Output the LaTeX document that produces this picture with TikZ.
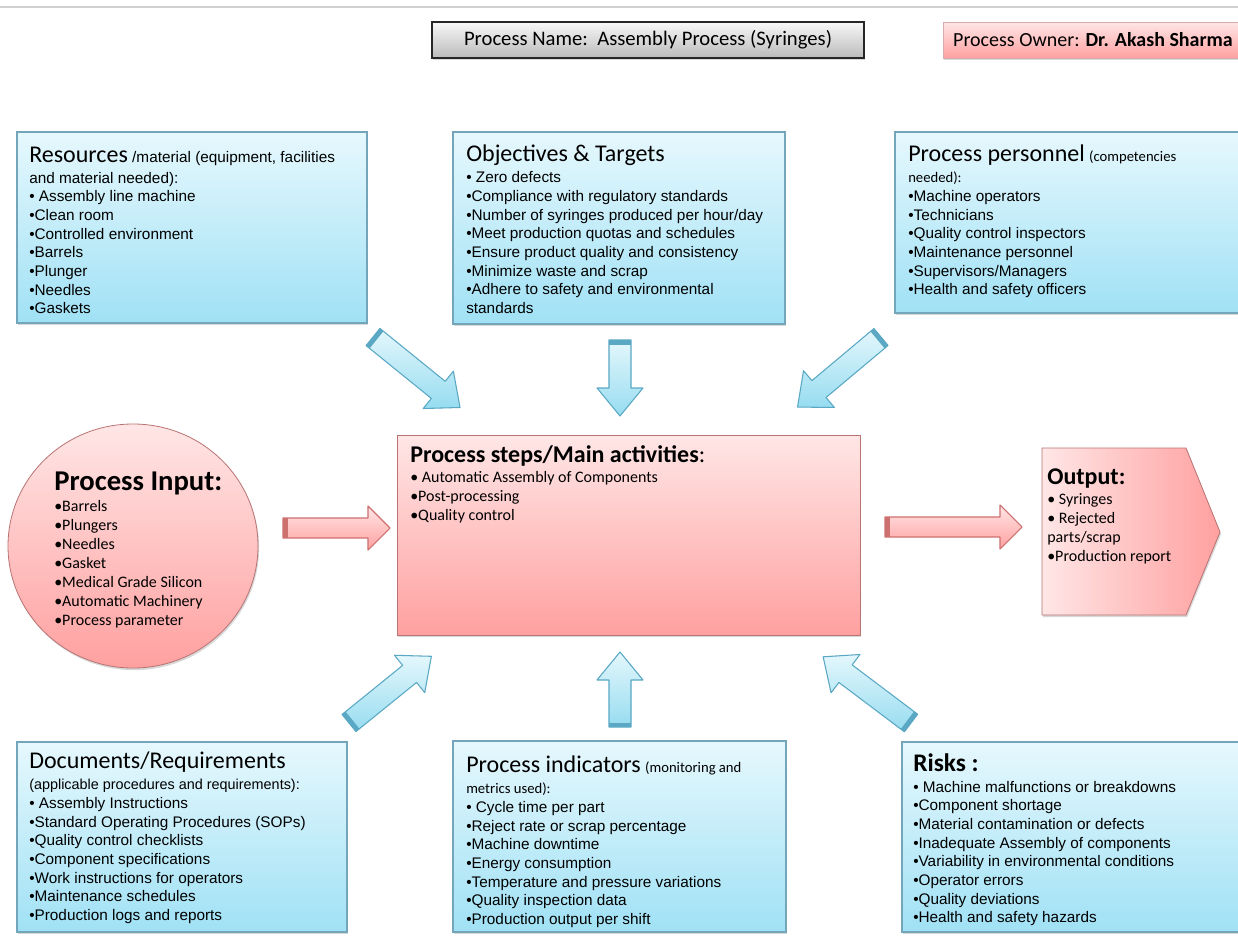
\documentclass[tikz,border=0pt]{standalone}
\usepackage{fontspec}
\setmainfont{Carlito}
\newfontfamily\arialf{Liberation Sans}
\usetikzlibrary{shadows}

\definecolor{boxedge}{RGB}{115,166,186}
\definecolor{bluetop}{RGB}{230,248,253}
\definecolor{bluebot}{RGB}{160,225,245}
\definecolor{pinktop}{RGB}{255,230,230}
\definecolor{pinkbot}{RGB}{255,160,160}
\definecolor{pinkedge}{RGB}{185,115,115}
\definecolor{arrowedge}{RGB}{90,168,196}
\definecolor{arrowtop}{RGB}{228,247,252}
\definecolor{arrowbot}{RGB}{150,220,240}
\definecolor{redarrowedge}{RGB}{205,112,112}
\definecolor{greytop}{RGB}{248,248,248}
\definecolor{greybot}{RGB}{186,186,186}

\newcommand\boxtitlefont{\rmfamily\fontsize{18}{20}\selectfont}
\newcommand\calnotefont{\rmfamily\fontsize{11}{14}\selectfont}

\begin{document}
\begin{tikzpicture}[x=0.75pt,y=0.75pt,yscale=-1,xscale=1,
  bluebox/.style={draw=boxedge, line width=0.8pt, top color=bluetop, bottom color=bluebot,
    drop shadow={opacity=0.3, shadow xshift=0.8pt, shadow yshift=-1.6pt}},
  redbox/.style={draw=pinkedge, line width=0.6pt, top color=pinktop, bottom color=pinkbot,
    drop shadow={opacity=0.3, shadow xshift=0.8pt, shadow yshift=-1.6pt}},
  bluearrow/.style={draw=arrowedge, line width=0.8pt, top color=arrowtop, bottom color=arrowbot, line join=round},
  redarrow/.style={draw=redarrowedge, line width=0.8pt, top color=pinktop, bottom color=pinkbot, line join=round},
  blueband/.style={fill=arrowedge},
  redband/.style={fill=redarrowedge},
  boxtext/.style={anchor=north west, inner sep=0pt, align=left, font=\arialf\fontsize{11.5}{14}\selectfont},
  redtext/.style={anchor=north west, inner sep=0pt, align=left, font=\rmfamily\fontsize{12}{14.2}\selectfont}
]
%set diagram size, 1238 x 935
\useasboundingbox (0,0) rectangle (1238,935);
\clip (0,0) rectangle (1238,935);
\fill [white] (0,0) rectangle (1238,935);

%Straight Lines
\draw [black!18, line width=0.8pt] (0,7) -- (1238,7) ;

%Shape: Rectangle
\draw [draw=black!85, line width=0.8pt, top color=greytop, bottom color=greybot,
  drop shadow={opacity=0.3, shadow xshift=0.8pt, shadow yshift=-1.6pt}] (432,22) rectangle (864,58) ;
%Shape: Rectangle
\draw [draw=pinkedge!60, line width=0.6pt, top color=pinktop, bottom color=pinkbot,
  drop shadow={opacity=0.3, shadow xshift=0.8pt, shadow yshift=-1.6pt}] (943,22) rectangle (1245,58) ;

%Shape: Rectangle
\draw [bluebox] (17,132) rectangle (367,323) ;
%Shape: Rectangle
\draw [bluebox] (453,132) rectangle (785,324) ;
%Shape: Rectangle
\draw [bluebox] (895,132) rectangle (1245,313) ;
%Shape: Rectangle
\draw [bluebox] (17,742) rectangle (347,932) ;
%Shape: Rectangle
\draw [bluebox] (453,741) rectangle (786,932) ;
%Shape: Rectangle
\draw [bluebox] (902,742) rectangle (1245,932) ;

%Shape: Ellipse
\draw [redbox] (133,546) ellipse (125 and 122) ;
%Shape: Rectangle
\draw [redbox] (397,435) rectangle (860,635) ;
%Shape: Pentagon
\draw [draw=pinkedge, line width=0.6pt, left color=pinktop, right color=pinkbot,
  drop shadow={opacity=0.3, shadow xshift=0.8pt, shadow yshift=-1.6pt}]
  (1042,448) -- (1186,448) -- (1220,532) -- (1186,615) -- (1042,615) -- cycle ;

%Shape: Right Arrow
\draw [bluearrow, shift={(373,337)}, rotate=39] (0,-11) -- (84,-11) -- (84,-24) -- (112,0) -- (84,24) -- (84,11) -- (0,11) -- cycle ;
\fill [blueband, shift={(373,337)}, rotate=39] (0,-11) -- (4.5,-11) -- (4.5,11) -- (0,11) -- cycle ;
%Shape: Right Arrow
\draw [bluearrow, shift={(620,340)}, rotate=90] (0,-11) -- (48,-11) -- (48,-23) -- (76,0) -- (48,23) -- (48,11) -- (0,11) -- cycle ;
\fill [blueband, shift={(620,340)}, rotate=90] (0,-11) -- (4.5,-11) -- (4.5,11) -- (0,11) -- cycle ;
%Shape: Right Arrow
\draw [bluearrow, shift={(881,337)}, rotate=140] (0,-11) -- (81,-11) -- (81,-24) -- (109,0) -- (81,24) -- (81,11) -- (0,11) -- cycle ;
\fill [blueband, shift={(881,337)}, rotate=140] (0,-11) -- (4.5,-11) -- (4.5,11) -- (0,11) -- cycle ;
%Shape: Right Arrow
\draw [bluearrow, shift={(349,723)}, rotate=-39] (0,-11) -- (78,-11) -- (78,-24) -- (106,0) -- (78,24) -- (78,11) -- (0,11) -- cycle ;
\fill [blueband, shift={(349,723)}, rotate=-39] (0,-11) -- (4.5,-11) -- (4.5,11) -- (0,11) -- cycle ;
%Shape: Right Arrow
\draw [bluearrow, shift={(620,727)}, rotate=-90] (0,-11) -- (47,-11) -- (47,-23) -- (75,0) -- (47,23) -- (47,11) -- (0,11) -- cycle ;
\fill [blueband, shift={(620,727)}, rotate=-90] (0,-11) -- (4.5,-11) -- (4.5,11) -- (0,11) -- cycle ;
%Shape: Right Arrow
\draw [bluearrow, shift={(911,723)}, rotate=-143] (0,-11) -- (82,-11) -- (82,-24) -- (110,0) -- (82,24) -- (82,11) -- (0,11) -- cycle ;
\fill [blueband, shift={(911,723)}, rotate=-143] (0,-11) -- (4.5,-11) -- (4.5,11) -- (0,11) -- cycle ;

%Shape: Right Arrow
\draw [redarrow] (283,518) -- (368,518) -- (368,506) -- (390,528) -- (368,550) -- (368,538) -- (283,538) -- cycle ;
\fill [redband] (283,518) -- (287.5,518) -- (287.5,538) -- (283,538) -- cycle ;
%Shape: Right Arrow
\draw [redarrow] (885,517) -- (1000,517) -- (1000,505) -- (1022,527) -- (1000,549) -- (1000,537) -- (885,537) -- cycle ;
\fill [redband] (885,517) -- (889.5,517) -- (889.5,537) -- (885,537) -- cycle ;

% Text Node
\node [font=\rmfamily\fontsize{15.5}{18}\selectfont] (procname) at (648,40) {Process Name:\ \ Assembly Process (Syringes)};
% Text Node
\node [font=\rmfamily\fontsize{15}{18}\selectfont] (procowner) at (1093,40) {Process Owner: \textbf{Dr. Akash Sharma}};

% Text Node
\node [boxtext] (resources) at (29,146.5) {{\boxtitlefont Resources} /material (equipment, facilities\\[1.75pt]and material needed):\\• Assembly line machine\\•Clean room\\•Controlled environment\\•Barrels\\•Plunger\\•Needles\\•Gaskets};
% Text Node
\node [boxtext] (objectives) at (466,145) {{\boxtitlefont Objectives \& Targets}\\[1.75pt]• Zero defects\\•Compliance with regulatory standards\\•Number of syringes produced per hour/day\\•Meet production quotas and schedules\\•Ensure product quality and consistency\\•Minimize waste and scrap\\•Adhere to safety and environmental\\standards};
% Text Node
\node [boxtext] (personnel) at (908,145) {{\boxtitlefont Process personnel} {\calnotefont (competencies}\\[1.75pt]{\calnotefont needed):}\\•Machine operators\\•Technicians\\•Quality control inspectors\\•Maintenance personnel\\•Supervisors/Managers\\•Health and safety officers};

% Text Node
\node [boxtext] (documents) at (29,752) {{\boxtitlefont Documents/Requirements}\\[1.75pt]{\fontsize{10.8}{14}\selectfont(applicable procedures and requirements):}\\• Assembly Instructions\\•Standard Operating Procedures (SOPs)\\•Quality control checklists\\•Component specifications\\•Work instructions for operators\\•Maintenance schedules\\•Production logs and reports};
% Text Node
\node [boxtext] (indicators) at (466,756) {{\boxtitlefont Process indicators} {\calnotefont (monitoring and}\\[1.75pt]{\calnotefont metrics used):}\\• Cycle time per part\\•Reject rate or scrap percentage\\•Machine downtime\\•Energy consumption\\•Temperature and pressure variations\\•Quality inspection data\\•Production output per shift};
% Text Node
\node [boxtext] (risks) at (913,753) {{\rmfamily\bfseries\fontsize{19}{20}\selectfont Risks :}\\[1.75pt]• Machine malfunctions or breakdowns\\•Component shortage\\•Material contamination or defects\\•Inadequate Assembly of components\\•Variability in environmental conditions\\•Operator errors\\•Quality deviations\\•Health and safety hazards};

% Text Node
\node [redtext] (input) at (54,472) {{\bfseries\fontsize{21.5}{24}\selectfont Process Input:}\\[1.5pt]•Barrels\\•Plungers\\•Needles\\•Gasket\\•Medical Grade Silicon\\•Automatic Machinery\\•Process parameter};
% Text Node
\node [redtext] (steps) at (410,445) {{\bfseries\fontsize{18}{20}\selectfont Process steps/Main activities}{\fontsize{18}{20}\selectfont :}\\[1.4pt]• Automatic Assembly of Components\\•Post-processing\\•Quality control};
% Text Node
\node [redtext] (output) at (1047,468) {{\bfseries\fontsize{18}{20}\selectfont Output:}\\[1.5pt]• Syringes\\• Rejected\\parts/scrap\\•Production report};

\end{tikzpicture}
\end{document}
